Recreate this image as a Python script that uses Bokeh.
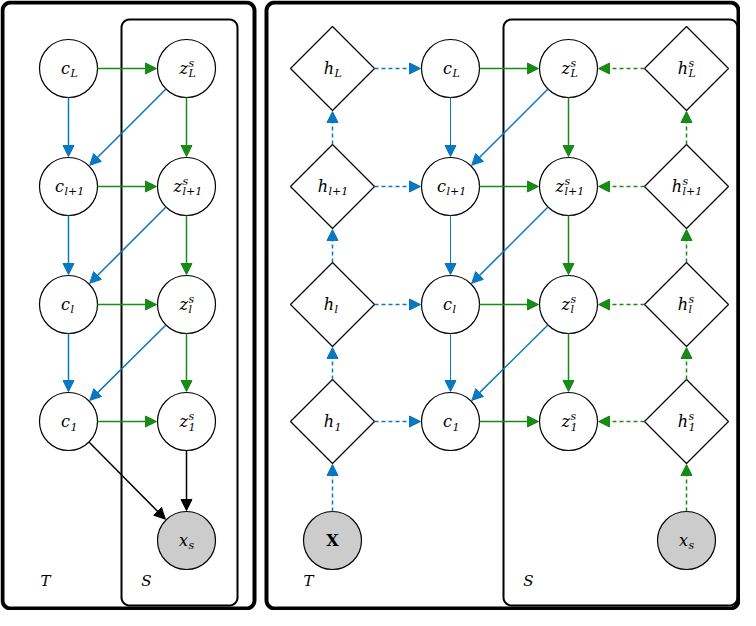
import math
from bokeh.plotting import figure
from bokeh.models import Range1d, Arrow, NormalHead
from bokeh.core.properties import value
from bokeh.embed import file_html
from bokeh.resources import INLINE

BLUE = "#0a77c2"
GREEN = "#178a17"

# nodes: name, x, y, shape, base, sub, sup, fill
node_names = ["cL", "cl1", "cl", "c1", "zL", "zl1", "zl", "z1", "xs",
              "RhL", "Rhl1", "Rhl", "Rh1", "RcL", "Rcl1", "Rcl", "Rc1",
              "RzL", "Rzl1", "Rzl", "Rz1", "RsL", "Rsl1", "Rsl", "Rs1", "RX", "Rxs"]
node_x = [68, 68, 68, 68, 186, 186, 186, 186, 186,
          332, 332, 332, 332, 450, 450, 450, 450,
          568, 568, 568, 568, 686, 686, 686, 686, 332, 686]
node_y = [68, 186, 304, 421, 68, 186, 304, 421, 540,
          68, 186, 304, 421, 68, 186, 304, 421,
          68, 186, 304, 421, 68, 186, 304, 421, 540, 540]
node_shape = ["c"] * 9 + ["d"] * 4 + ["c"] * 8 + ["d"] * 4 + ["c", "c"]
node_base = ["c", "c", "c", "c", "z", "z", "z", "z", "x",
             "h", "h", "h", "h", "c", "c", "c", "c",
             "z", "z", "z", "z", "h", "h", "h", "h", "X", "x"]
node_sub = ["L", "l+1", "l", "1", "L", "l+1", "l", "1", "s",
            "L", "l+1", "l", "1", "L", "l+1", "l", "1",
            "L", "l+1", "l", "1", "L", "l+1", "l", "1", "", "s"]
node_sup = ["", "", "", "", "s", "s", "s", "s", "",
            "", "", "", "", "", "", "", "",
            "s", "s", "s", "s", "s", "s", "s", "s", "", ""]
node_fill = ["white"] * 8 + ["#cccccc"] + ["white"] * 16 + ["#cccccc", "#cccccc"]

# edges: from, to, color, dashed
edges = [
    ("cL", "cl1", BLUE, False), ("cl1", "cl", BLUE, False), ("cl", "c1", BLUE, False),
    ("cL", "zL", GREEN, False), ("cl1", "zl1", GREEN, False), ("cl", "zl", GREEN, False), ("c1", "z1", GREEN, False),
    ("zL", "zl1", GREEN, False), ("zl1", "zl", GREEN, False), ("zl", "z1", GREEN, False),
    ("zL", "cl1", BLUE, False), ("zl1", "cl", BLUE, False), ("zl", "c1", BLUE, False),
    ("c1", "xs", "black", False), ("z1", "xs", "black", False),
    ("RX", "Rh1", BLUE, True), ("Rh1", "Rhl", BLUE, True), ("Rhl", "Rhl1", BLUE, True), ("Rhl1", "RhL", BLUE, True),
    ("RhL", "RcL", BLUE, True), ("Rhl1", "Rcl1", BLUE, True), ("Rhl", "Rcl", BLUE, True), ("Rh1", "Rc1", BLUE, True),
    ("RcL", "Rcl1", BLUE, False), ("Rcl1", "Rcl", BLUE, False), ("Rcl", "Rc1", BLUE, False),
    ("RcL", "RzL", GREEN, False), ("Rcl1", "Rzl1", GREEN, False), ("Rcl", "Rzl", GREEN, False), ("Rc1", "Rz1", GREEN, False),
    ("RzL", "Rzl1", GREEN, False), ("Rzl1", "Rzl", GREEN, False), ("Rzl", "Rz1", GREEN, False),
    ("RzL", "Rcl1", BLUE, False), ("Rzl1", "Rcl", BLUE, False), ("Rzl", "Rc1", BLUE, False),
    ("RsL", "RzL", GREEN, True), ("Rsl1", "Rzl1", GREEN, True), ("Rsl", "Rzl", GREEN, True), ("Rs1", "Rz1", GREEN, True),
    ("Rxs", "Rs1", GREEN, True), ("Rs1", "Rsl", GREEN, True), ("Rsl", "Rsl1", GREEN, True), ("Rsl1", "RsL", GREEN, True),
]

# boxes: left, top, right, bottom, width
boxes = [(2, 2, 254, 608, 4), (121, 19, 237, 605, 2), (266, 2, 738, 608, 4), (503, 19, 737, 605, 2)]
box_labels = ["T", "S", "T", "S"]
box_lx = [45, 146, 308, 528]
box_ly = [580, 580, 580, 580]

R = 29
D = 42

p = figure(width=740, height=610, x_range=Range1d(0, 740), y_range=Range1d(610, 0),
           output_backend="svg", toolbar_location=None, min_border=0)
p.axis.visible = False
p.grid.visible = False
p.outline_line_color = None

def rrect(l, t, r, b, rad=8):
    xs, ys = [], []
    for cx, cy, a0 in [(r - rad, t + rad, -90), (r - rad, b - rad, 0), (l + rad, b - rad, 90), (l + rad, t + rad, 180)]:
        for k in range(7):
            a = math.radians(a0 + 15 * k)
            xs.append(cx + rad * math.cos(a))
            ys.append(cy + rad * math.sin(a))
    xs.append(xs[0]); ys.append(ys[0])
    return xs, ys

for l, t, r, b, w in boxes:
    xs, ys = rrect(l, t, r, b)
    p.line(xs, ys, line_color="black", line_width=w)

p.text(box_lx, box_ly, text=box_labels, text_font=value("DejaVu Serif"), text_font_style="italic",
       text_font_size="15px", text_align="center", text_baseline="middle")

pos = {n: (x, y, s) for n, x, y, s in zip(node_names, node_x, node_y, node_shape)}

for a, b, col, dashed in edges:
    x0, y0, s0 = pos[a]
    x1, y1, s1 = pos[b]
    dx, dy = x1 - x0, y1 - y0
    L = math.hypot(dx, dy)
    ux, uy = dx / L, dy / L
    r0 = D if s0 == "d" else R
    r1 = D if s1 == "d" else R
    thin = a.startswith("Rc") and b.startswith("Rc")
    p.add_layout(Arrow(x_start=x0 + ux * r0, y_start=y0 + uy * r0,
                       x_end=x1 - ux * (r1 + 1), y_end=y1 - uy * (r1 + 1),
                       line_color=col, line_width=1 if thin else 1.5,
                       line_dash="4 3" if dashed else "solid",
                       end=NormalHead(size=11, fill_color=col, line_color=col)))

cx = [x for x, s in zip(node_x, node_shape) if s == "c"]
cy = [y for y, s in zip(node_y, node_shape) if s == "c"]
cf = [f for f, s in zip(node_fill, node_shape) if s == "c"]
p.scatter(cx, cy, size=2 * R, marker="circle", fill_color=cf, line_color="black", line_width=1.2)

dxs = [[x - D, x, x + D, x] for x, s in zip(node_x, node_shape) if s == "d"]
dys = [[y, y - D, y, y + D] for y, s in zip(node_y, node_shape) if s == "d"]
p.patches(dxs, dys, fill_color="white", line_color="black", line_width=1.2)

bx, by, bt, sx, sy, st, ux_, uy_, ut = [], [], [], [], [], [], [], [], []
for x, y, base, sub, sup in zip(node_x, node_y, node_base, node_sub, node_sup):
    if base == "X":
        continue
    ext = max(len(sub), len(sup)) * 6
    left = x - (9 + ext) / 2
    bx.append(left + 9); by.append(y); bt.append(base)
    if sub:
        sx.append(left + 9.5); sy.append(y + 5); st.append(sub)
    if sup:
        ux_.append(left + 9.5); uy_.append(y - 5); ut.append(sup)

p.text(bx, by, text=bt, text_font=value("DejaVu Serif"), text_font_style="italic",
       text_font_size="16px", text_align="right", text_baseline="middle")
p.text([node_x[node_names.index("RX")]], [node_y[node_names.index("RX")]], text=["X"],
       text_font=value("DejaVu Serif"), text_font_style="bold", text_font_size="16px",
       text_align="center", text_baseline="middle")
p.text(sx, sy, text=st, text_font=value("DejaVu Serif"), text_font_style="italic",
       text_font_size="11px", text_align="left", text_baseline="middle")
p.text(ux_, uy_, text=ut, text_font=value("DejaVu Serif"), text_font_style="italic",
       text_font_size="11px", text_align="left", text_baseline="middle")

open("out.html", "w").write(file_html(p, INLINE))
